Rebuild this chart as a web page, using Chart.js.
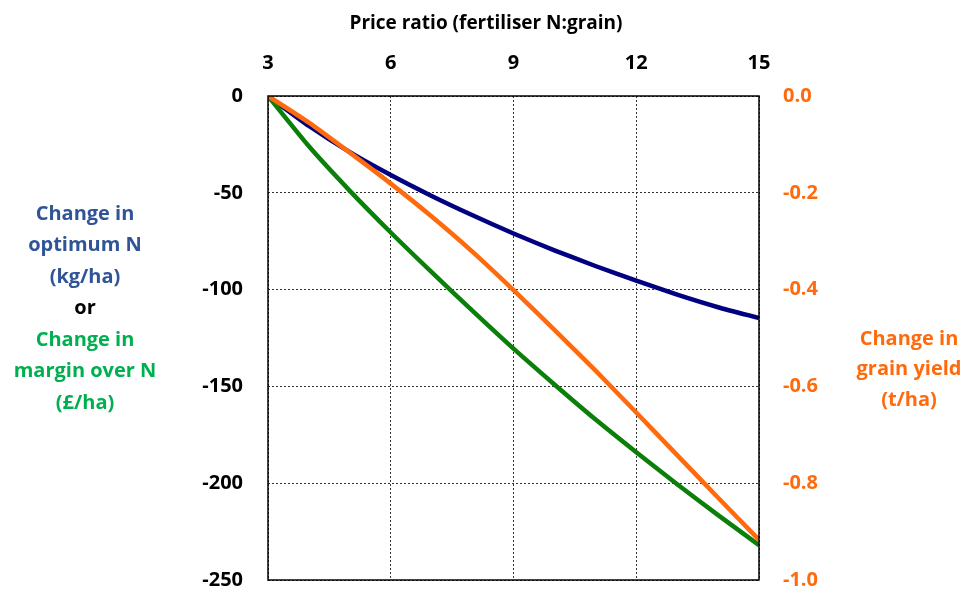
<!DOCTYPE html>
<html>
<head>
<meta charset="utf-8">
<script src="https://cdn.jsdelivr.net/npm/chart.js@4/dist/chart.umd.min.js"></script>
<style>
  html, body { margin: 0; padding: 0; background: #fff; overflow: hidden; }
  #wrap { width: 966px; height: 590px; }
</style>
</head>
<body>
<div id="wrap"><canvas id="nChart" width="966" height="590"></canvas></div>
<script>
  // values
  const priceRatio = [3, 4, 5, 6, 7, 8, 9, 10, 11, 12, 13, 14, 15];
  const optimumN = [0, -15.5, -29, -40.8, -51.6, -61.6, -71, -79.7, -87.8, -95.4, -102.6, -109.1, -114.7];
  const marginOverN = [0, -26, -49, -70.5, -91, -111, -130.5, -149, -167, -184, -200.5, -216.5, -232];
  const grainYield = [0, -0.055, -0.117, -0.181, -0.249, -0.322, -0.401, -0.483, -0.567, -0.654, -0.742, -0.830, -0.917];

  const xTicks = [3, 6, 9, 12, 15];
  const xTitle = "Price ratio (fertiliser N:grain)";
  const leftTitle = [
    ["Change in", "#2f5597"],
    ["optimum N", "#2f5597"],
    ["(kg/ha)", "#2f5597"],
    ["or", "#000000"],
    ["Change in", "#00b050"],
    ["margin over N", "#00b050"],
    ["(£/ha)", "#00b050"]
  ];
  const rightTitle = ["Change in", "grain yield", "(t/ha)"];

  const FONT = "'Open Sans', sans-serif";
  const ORANGE = "#ff6a0d";

  const toXY = vals => vals.map((v, i) => ({ x: priceRatio[i], y: v }));

  // frame + axis titles
  const extras = {
    id: "extras",
    afterDraw(chart) {
      const { ctx, chartArea: a } = chart;
      ctx.save();
      ctx.strokeStyle = "#000";
      ctx.lineWidth = 1.5;
      ctx.strokeRect(a.left, a.top, a.right - a.left, a.bottom - a.top);

      ctx.textAlign = "center";
      ctx.textBaseline = "middle";
      ctx.fillStyle = "#000";
      ctx.font = "bold 19px " + FONT;
      ctx.fillText(xTitle, 486, 24);

      ctx.font = "bold 20px " + FONT;
      leftTitle.forEach((l, i) => {
        ctx.fillStyle = l[1];
        ctx.fillText(l[0], 85, 214 + i * 31.5);
      });

      ctx.fillStyle = ORANGE;
      rightTitle.forEach((t, i) => {
        ctx.fillText(t, 909, 339 + i * 30.5);
      });
      ctx.restore();
    }
  };

  const gridStyle = { color: "#333", lineWidth: 1, drawTicks: false };
  const tickFont = { family: FONT, size: 20, weight: "bold" };

  new Chart(document.getElementById("nChart"), {
    type: "line",
    data: {
      datasets: [
        {
          label: "Change in optimum N",
          data: toXY(optimumN),
          borderColor: "#000080",
          yAxisID: "y",
          order: 3
        },
        {
          label: "Change in margin over N",
          data: toXY(marginOverN),
          borderColor: "#0a7f0a",
          yAxisID: "y",
          order: 2
        },
        {
          label: "Change in grain yield",
          data: toXY(grainYield),
          borderColor: ORANGE,
          yAxisID: "y2",
          order: 1
        }
      ]
    },
    options: {
      responsive: false,
      animation: false,
      layout: { padding: { top: 0, bottom: 10, left: 0, right: 0 } },
      elements: {
        line: { borderWidth: 4.5, tension: 0.2, fill: false },
        point: { radius: 0 }
      },
      plugins: {
        legend: { display: false },
        tooltip: { enabled: false }
      },
      scales: {
        x: {
          type: "linear",
          position: "top",
          min: 3,
          max: 15,
          afterBuildTicks: s => { s.ticks = xTicks.map(v => ({ value: v })); },
          afterFit: s => { s.height = 96; },
          grid: gridStyle,
          border: { display: false, dash: [2, 2] },
          ticks: { padding: 21, color: "#000", font: tickFont, maxRotation: 0 }
        },
        y: {
          position: "left",
          min: -250,
          max: 0,
          afterFit: s => { s.width = 268; s.paddingTop = 0; s.paddingBottom = 0; },
          grid: gridStyle,
          border: { display: false, dash: [2, 2] },
          ticks: { stepSize: 50, padding: 25, color: "#000", font: tickFont }
        },
        y2: {
          position: "right",
          min: -1,
          max: 0,
          afterFit: s => { s.width = 207; s.paddingTop = 0; s.paddingBottom = 0; },
          grid: { display: false, drawTicks: false },
          border: { display: false },
          ticks: {
            stepSize: 0.2,
            padding: 24,
            color: ORANGE,
            font: tickFont,
            callback: v => v.toFixed(1)
          }
        }
      }
    },
    plugins: [extras]
  });
</script>
</body>
</html>
